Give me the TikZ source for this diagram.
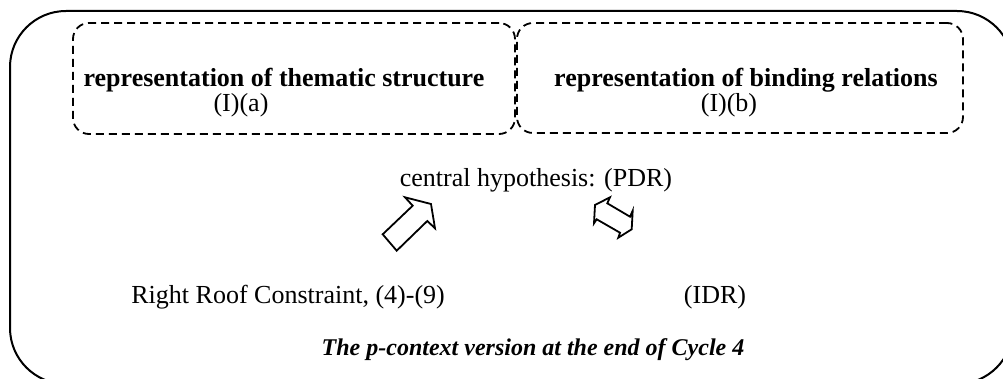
\documentclass[tikz,border=0pt]{standalone}
\usepackage{fontspec}
\setmainfont{Liberation Serif}
\begin{document}
\begin{tikzpicture}[x=0.5pt,y=-0.5pt,
  outer/.style={draw, line width=1pt, rounded corners=28pt},
  group/.style={draw, line width=0.9pt, dash pattern=on 4pt off 2.5pt,
                rounded corners=8pt, inner sep=0pt},
  head/.style={font=\fontsize{13}{15}\selectfont\bfseries, anchor=base, inner sep=0pt},
  plain/.style={font=\fontsize{13}{15}\selectfont, anchor=base, inner sep=0pt},
  caption/.style={font=\fontsize{12}{14}\selectfont\bfseries\itshape, anchor=base, inner sep=0pt},
  blockarrow/.style={draw, line width=0.9pt, line join=miter, fill=white}]
\useasboundingbox (0,0) rectangle (1003,379);

% outer frame, running past the page edges on the right and bottom
\begin{scope}
  \clip (0,0) rectangle (1003,379);
  \draw[outer] (10,11) rectangle (1013,384);
\end{scope}

% the two dashed groups
\node[group, minimum width=221pt, minimum height=55.5pt] (gA) at (294,78.5) {};
\node[group, minimum width=223pt, minimum height=55pt] (gB) at (740,78) {};

% texts
\node[head]  (thematic) at (284,87)  {representation of thematic structure};
\node[plain] (ia)       at (241,112) {(I)(a)};
\node[head]  (binding)  at (746,87)  {representation of binding relations};
\node[plain] (ib)       at (729,112) {(I)(b)};
\node[plain] (pdr)      at (536,187) {central hypothesis: (PDR)};
\node[plain, anchor=base west] (rrc) at (131,304) {Right Roof Constraint, (4)-(9)};
\node[plain] (idr)      at (715,304) {(IDR)};
\node[caption] (cap)    at (533,356) {The p-context version at the end of Cycle 4};

% block arrow pointing up to the hypothesis
\draw[blockarrow] (405,197.3) -- (431,204) -- (435,228.3) -- (427.3,221)
  -- (396.7,250.7) -- (382.7,234.3) -- (412.7,205.7) -- cycle;

% double block arrow
\draw[blockarrow] (610,197.3) -- (607.3,203.3) -- (630,216.7) -- (632.7,210.7)
  -- (631.7,229.3) -- (618.3,237.7) -- (620,232.7) -- (596.7,219.3)
  -- (594,223.3) -- (595,205) -- cycle;
\end{tikzpicture}
\end{document}
